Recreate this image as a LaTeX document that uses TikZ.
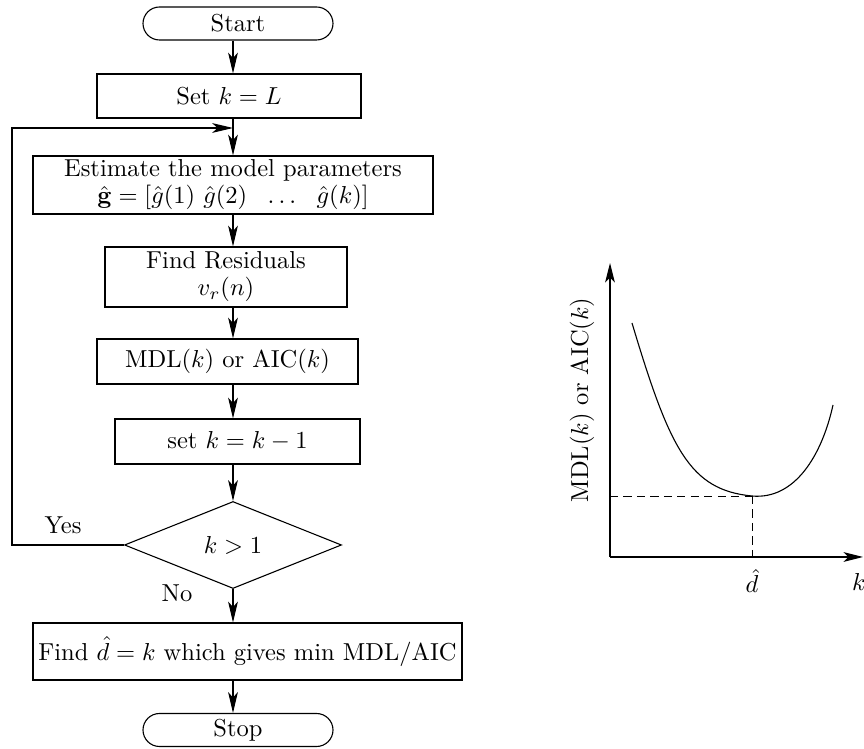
\documentclass[tikz,border=0pt]{standalone}
\usetikzlibrary{arrows.meta,shapes.misc,shapes.geometric}
\def\pu{0.408pt}
\begin{document}
\begin{tikzpicture}[x=0.408pt,y=-0.408pt,
  line width=0.45pt,
  box/.style={draw,rectangle,inner sep=0pt,align=center},
  term/.style={draw,rounded rectangle,inner sep=0pt,minimum width=190*\pu,minimum height=33*\pu},
  decision/.style={draw,diamond,inner sep=0pt,minimum width=217*\pu,minimum height=87*\pu},
  arr/.style={-{Stealth[length=8.5pt,width=4pt,inset=2.2pt]}},
  axis/.style={-{Stealth[length=8pt,width=4pt,inset=2pt]}},
  guide/.style={dashed,dash pattern=on 3.3pt off 2.2pt}]
\useasboundingbox (0,0) rectangle (864,749);

% flowchart
\node[term] (start) at (238,23.5) {Start};
\node[box,minimum width=264*\pu,minimum height=44*\pu] (setL) at (229,96) {Set $k=L$};
\node[box,minimum width=400*\pu,minimum height=58*\pu] (est) at (233,185)
  {Estimate the model parameters\\[-1pt] $\hat{\mathbf{g}}=[\hat g(1)\ \hat g(2)\ \ \ldots\ \ \hat g(k)]$};
\node[box,minimum width=242*\pu,minimum height=60*\pu] (res) at (226,277)
  {Find Residuals\\[-1pt] $v_r(n)$};
\node[box,minimum width=261*\pu,minimum height=45*\pu] (mdl) at (227.5,361.5) {MDL$(k)$ or AIC$(k)$};
\node[box,minimum width=245*\pu,minimum height=45*\pu] (dec) at (237.5,441.5) {set $k=k-1$};
\node[decision] (test) at (233,545) {$k>1$};
\node[box,minimum width=429*\pu,minimum height=57*\pu] (find) at (247.5,651.5)
  {Find $\hat d=k$ which gives min MDL/AIC};
\node[term] (stop) at (238,730) {Stop};

\coordinate (col) at (233,0);
\coordinate (loopL) at (12,128);
\coordinate (loopR) at (233,128);

\draw[arr] (start.south -| col) -- (setL.north -| col);
\draw (setL.south -| col) -- (loopR);
\draw[arr] (loopR) -- (est.north -| col);
\draw[arr] (est.south -| col) -- (res.north -| col);
\draw[arr] (res.south -| col) -- (mdl.north -| col);
\draw[arr] (mdl.south -| col) -- (dec.north -| col);
\draw[arr] (dec.south -| col) -- (test.north);
\draw[arr] (test.south) -- (find.north -| col);
\draw[arr] (find.south -| col) -- (stop.north -| col);
\draw[arr] (test.west) -| (loopL) -- (loopR);

\node (yes) at (63,525) {Yes};
\node (no) at (177,593) {No};

% MDL/AIC curve versus k
\coordinate (O) at (610,557);
\coordinate (ytip) at (610,263);
\coordinate (xtip) at (863,557);
\coordinate (cmin) at (752,496);
\draw[axis] (O) -- (ytip);
\draw[axis] (O) -- (xtip);
\draw (632,323) .. controls (670,450) and (690,490) .. (cmin)
      .. controls (795,500) and (822,455) .. (833,405);
\draw[guide,line width=0.35pt] (O |- cmin) -- (cmin);
\draw[guide,line width=0.35pt] (cmin) -- (cmin |- O);
\node[rotate=90] (ylab) at (582,400) {MDL$(k)$ or AIC$(k)$};
\node (dhat) at (752,581) {$\hat d$};
\node (klab) at (859,582) {$k$};
\end{tikzpicture}
\end{document}
